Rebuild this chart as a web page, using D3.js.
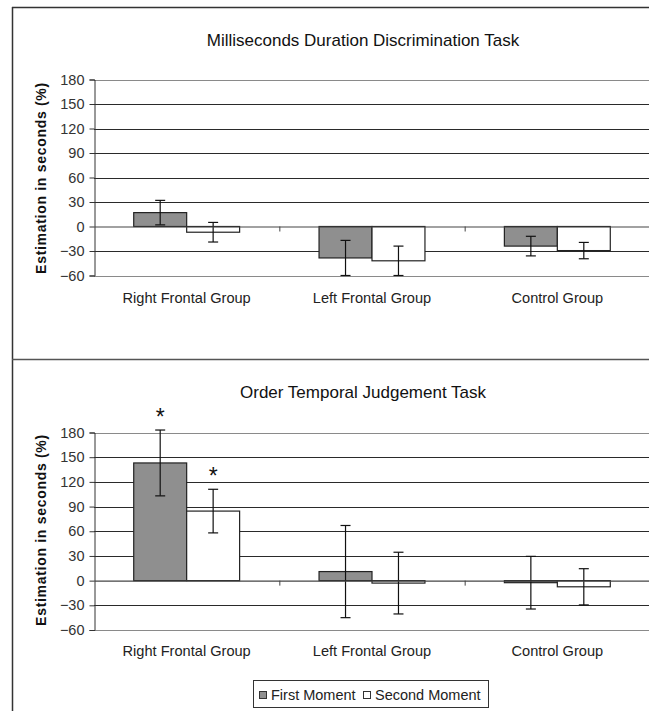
<!DOCTYPE html>
<html>
<head>
<meta charset="utf-8">
<script src="https://cdn.jsdelivr.net/npm/d3@7"></script>
<style>
  html, body { margin: 0; padding: 0; background: #fff; }
  svg { display: block; font-family: "Liberation Sans", Arial, sans-serif; }
</style>
</head>
<body>
<svg id="chart" width="649" height="711"></svg>
<script>
// Groups and series
const groups = ["Right Frontal Group", "Left Frontal Group", "Control Group"];
const seriesNames = ["First Moment", "Second Moment"];
const yTicks = [-60, -30, 0, 30, 60, 90, 120, 150, 180];

// Milliseconds duration discrimination task: means and error half-widths
const durationFirst = [17, -38.5, -24];
const durationFirstErr = [15, 21.5, 12];
const durationSecond = [-7, -42, -29.5];
const durationSecondErr = [12, 18, 10];

// Order temporal judgement task
const orderFirst = [143, 11, -2.5];
const orderFirstErr = [40, 56, 32];
const orderSecond = [84.5, -3, -7.5];
const orderSecondErr = [26.5, 37.5, 22];
// significant differences (group, series)
const orderSignificant = [[0, 0], [0, 1]];

const seriesFill = ["#8f8f8f", "#ffffff"];

const svg = d3.select("#chart");

// outer frame and panel separator
svg.append("line").attr("x1", 12.5).attr("x2", 12.5).attr("y1", 7).attr("y2", 711)
  .attr("stroke", "#333").attr("stroke-width", 1.5);
svg.append("line").attr("x1", 12).attr("x2", 649).attr("y1", 7.5).attr("y2", 7.5)
  .attr("stroke", "#333").attr("stroke-width", 1.5);
svg.append("line").attr("x1", 12).attr("x2", 649).attr("y1", 359.5).attr("y2", 359.5)
  .attr("stroke", "#555").attr("stroke-width", 1.5);

function rows(first, firstErr, second, secondErr) {
  return groups.map((g, i) => ({
    group: g,
    bars: [
      { series: seriesNames[0], value: first[i], err: firstErr[i], gi: i, si: 0 },
      { series: seriesNames[1], value: second[i], err: secondErr[i], gi: i, si: 1 }
    ]
  }));
}

function panel(opts) {
  const g = svg.append("g");
  const x = d3.scaleBand().domain(groups).range([94, 650]).paddingInner(0).paddingOuter(0);
  const x1 = d3.scaleBand().domain(seriesNames).range([0, x.bandwidth()]).paddingInner(0).paddingOuter(0.75);
  const y = d3.scaleLinear().domain([-60, 180]).range(opts.yRange);

  // title
  g.append("text").attr("x", 363).attr("y", opts.titleY)
    .attr("text-anchor", "middle").attr("font-size", 17).attr("fill", "#111")
    .text(opts.title);

  // horizontal gridlines
  g.append("g").selectAll("line").data(yTicks.filter(t => t !== 0)).join("line")
    .attr("x1", 94).attr("x2", 649)
    .attr("y1", d => Math.round(y(d)) + 0.5).attr("y2", d => Math.round(y(d)) + 0.5)
    .attr("stroke", d => (d === 180 || d === -60) ? "#8a8a8a" : "#2a2a2a")
    .attr("stroke-width", 1.2);

  // y axis
  const yAxis = d3.axisLeft(y).tickValues(yTicks).tickSize(5).tickPadding(5);
  const ya = g.append("g").attr("transform", "translate(94.5,0)").call(yAxis);
  ya.select(".domain").attr("stroke", "#333");
  ya.selectAll(".tick line").attr("stroke", "#333");
  ya.selectAll(".tick text").attr("font-size", 14.5).attr("fill", "#333")
    .attr("font-family", "'Liberation Sans', Arial, sans-serif");

  // y axis title
  g.append("text")
    .attr("transform", `translate(46,${opts.yTitleY}) rotate(-90)`)
    .attr("text-anchor", "middle").attr("font-size", 14).attr("font-weight", "bold")
    .attr("letter-spacing", 0.7).attr("fill", "#111")
    .text("Estimation in seconds (%)");

  const data = rows(opts.first, opts.firstErr, opts.second, opts.secondErr);

  // bars
  const grp = g.append("g").selectAll("g").data(data).join("g")
    .attr("transform", d => `translate(${x(d.group)},0)`);
  grp.selectAll("rect").data(d => d.bars).join("rect")
    .attr("x", d => x1(d.series))
    .attr("width", x1.bandwidth())
    .attr("y", d => y(Math.max(0, d.value)))
    .attr("height", d => Math.abs(y(d.value) - y(0)))
    .attr("fill", d => seriesFill[d.si])
    .attr("stroke", "#222").attr("stroke-width", 1.2);

  // category axis at zero
  const xAxis = d3.axisBottom(x).tickSize(0).tickFormat("");
  const xa = g.append("g").attr("transform", `translate(0,${y(0)})`).call(xAxis);
  xa.select(".domain").attr("stroke", "#444").attr("stroke-width", 1.2);
  // boundary ticks between categories
  g.append("g").selectAll("line").data(groups.slice(1)).join("line")
    .attr("x1", d => x(d) + 0.5).attr("x2", d => x(d) + 0.5)
    .attr("y1", y(0)).attr("y2", y(0) + 5)
    .attr("stroke", "#444");

  // category labels
  g.append("g").selectAll("text").data(groups).join("text")
    .attr("x", d => x(d) + x.bandwidth() / 2)
    .attr("y", opts.catY)
    .attr("text-anchor", "middle").attr("font-size", 14.6).attr("fill", "#222")
    .text(d => d);

  // error bars
  const eb = grp.selectAll("g.err").data(d => d.bars).join("g").attr("class", "err")
    .attr("stroke", "#111").attr("stroke-width", 1.2);
  eb.append("line")
    .attr("x1", d => x1(d.series) + x1.bandwidth() / 2).attr("x2", d => x1(d.series) + x1.bandwidth() / 2)
    .attr("y1", d => y(d.value + d.err)).attr("y2", d => y(d.value - d.err));
  eb.append("line")
    .attr("x1", d => x1(d.series) + x1.bandwidth() / 2 - 5).attr("x2", d => x1(d.series) + x1.bandwidth() / 2 + 5)
    .attr("y1", d => y(d.value + d.err)).attr("y2", d => y(d.value + d.err));
  eb.append("line")
    .attr("x1", d => x1(d.series) + x1.bandwidth() / 2 - 5).attr("x2", d => x1(d.series) + x1.bandwidth() / 2 + 5)
    .attr("y1", d => y(d.value - d.err)).attr("y2", d => y(d.value - d.err));

  // significance markers
  if (opts.significant) {
    g.append("g").selectAll("text").data(opts.significant).join("text")
      .attr("x", ([gi, si]) => x(groups[gi]) + x1(seriesNames[si]) + x1.bandwidth() / 2)
      .attr("y", ([gi, si]) => {
        const d = data[gi].bars[si];
        return y(d.value + d.err) - 5;
      })
      .attr("text-anchor", "middle").attr("font-size", 23).attr("fill", "#111")
      .text("*");
  }
  return { x, y };
}

panel({
  title: "Milliseconds Duration Discrimination Task",
  titleY: 46,
  yRange: [275.5, 79.5],
  yTitleY: 178,
  catY: 303,
  first: durationFirst, firstErr: durationFirstErr,
  second: durationSecond, secondErr: durationSecondErr
});

panel({
  title: "Order Temporal Judgement Task",
  titleY: 398,
  yRange: [630, 432.5],
  yTitleY: 530,
  catY: 656,
  first: orderFirst, firstErr: orderFirstErr,
  second: orderSecond, secondErr: orderSecondErr,
  significant: orderSignificant
});

// legend
const legend = svg.append("g");
legend.append("rect").attr("x", 253.5).attr("y", 680.5).attr("width", 235).attr("height", 27)
  .attr("fill", "#fff").attr("stroke", "#333").attr("stroke-width", 1);
const legendX = [259, 363];
const items = legend.selectAll("g.item").data(seriesNames).join("g").attr("class", "item")
  .attr("transform", (d, i) => `translate(${legendX[i]},0)`);
items.append("rect").attr("x", 0.5).attr("y", 691.5).attr("width", 7).attr("height", 7)
  .attr("fill", (d, i) => seriesFill[i]).attr("stroke", "#333");
items.append("text").attr("x", 12).attr("y", 699.5).attr("font-size", 14.5).attr("fill", "#222")
  .text(d => d);
</script>
</body>
</html>
